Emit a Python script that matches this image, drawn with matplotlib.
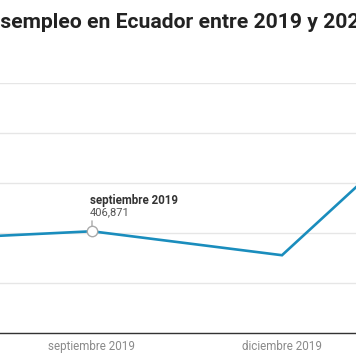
import numpy as np
import matplotlib.pyplot as plt

# Desempleo en Ecuador (personas), trimestral
periodos = ['junio 2019', 'septiembre 2019', 'diciembre 2019', 'junio 2020']
desempleados = [370000, 406871, 311134, 1009583]
etiquetas_x = ['septiembre 2019', 'diciembre 2019']
ticks_y = [0, 200000, 400000, 600000, 800000, 1000000]

LineColor = '#1a8dbd'
plt.rcParams['font.family'] = ['Roboto', 'DejaVu Sans']

W, H = 356, 364
fig = plt.figure(figsize=(W / 100, H / 100), dpi=100)
# plot area: baseline at y=333 px, top gridline at y=83 px
ax = fig.add_axes([0, (H - 333) / H, 1, 250 / H])

x = np.arange(len(periodos))
ax.plot(x, desempleados, color=LineColor, lw=1.9, solid_joinstyle='miter', zorder=3)

# visible window: septiembre at 92 px, 190 px per trimestre
ax.set_xlim(1 - 92 / 190, 1 + (W - 92) / 190)
ax.set_ylim(0, 1000000)

ax.set_yticks(ticks_y)
ax.yaxis.grid(True, color='#e6e6e6', lw=1)
ax.set_axisbelow(True)
ax.tick_params(axis='y', left=False, labelleft=False)
ax.set_xticks([periodos.index(e) for e in etiquetas_x])
ax.set_xticklabels(etiquetas_x, color='#8a8a8a', fontsize=8.4)
ax.tick_params(axis='x', length=0, pad=5)
for s in ['left', 'right', 'top']:
    ax.spines[s].set_visible(False)
ax.spines['bottom'].set_color('#333333')
ax.spines['bottom'].set_linewidth(1)

# highlighted point (septiembre 2019)
i = periodos.index('septiembre 2019')
ax.plot(i, desempleados[i], 'o', ms=7.5, mfc='white', mec='#aaaaaa', mew=1, zorder=4)
ax.annotate('', xy=(i, desempleados[i]), xytext=(0, 7.5), textcoords='offset points',
            arrowprops=dict(arrowstyle='-', color='#aaaaaa', lw=1, shrinkA=0, shrinkB=3))
ax.annotate('septiembre 2019', xy=(i, desempleados[i]), xytext=(-1.5, 22),
            textcoords='offset points', ha='left', va='center',
            fontsize=8.3, fontweight='bold', color='#333333')
ax.annotate('406,871', xy=(i, desempleados[i]), xytext=(-1.5, 13.5),
            textcoords='offset points', ha='left', va='center',
            fontsize=8, color='#555555')

# title, cropped on both sides like the reference
titulo = fig.text(0, 1 - 22 / H, 'Desempleo en Ecuador entre 2019 y 2020',
                  fontsize=15.25, fontweight='bold', color='#222222', va='center', ha='left')
fig.canvas.draw()
r = fig.canvas.get_renderer()
tmp = fig.text(0, 0, 'De', fontsize=15.25, fontweight='bold')
w = tmp.get_window_extent(r).width
tmp.remove()
titulo.set_x(-w / W)

fig.savefig('out.png', dpi=100)
